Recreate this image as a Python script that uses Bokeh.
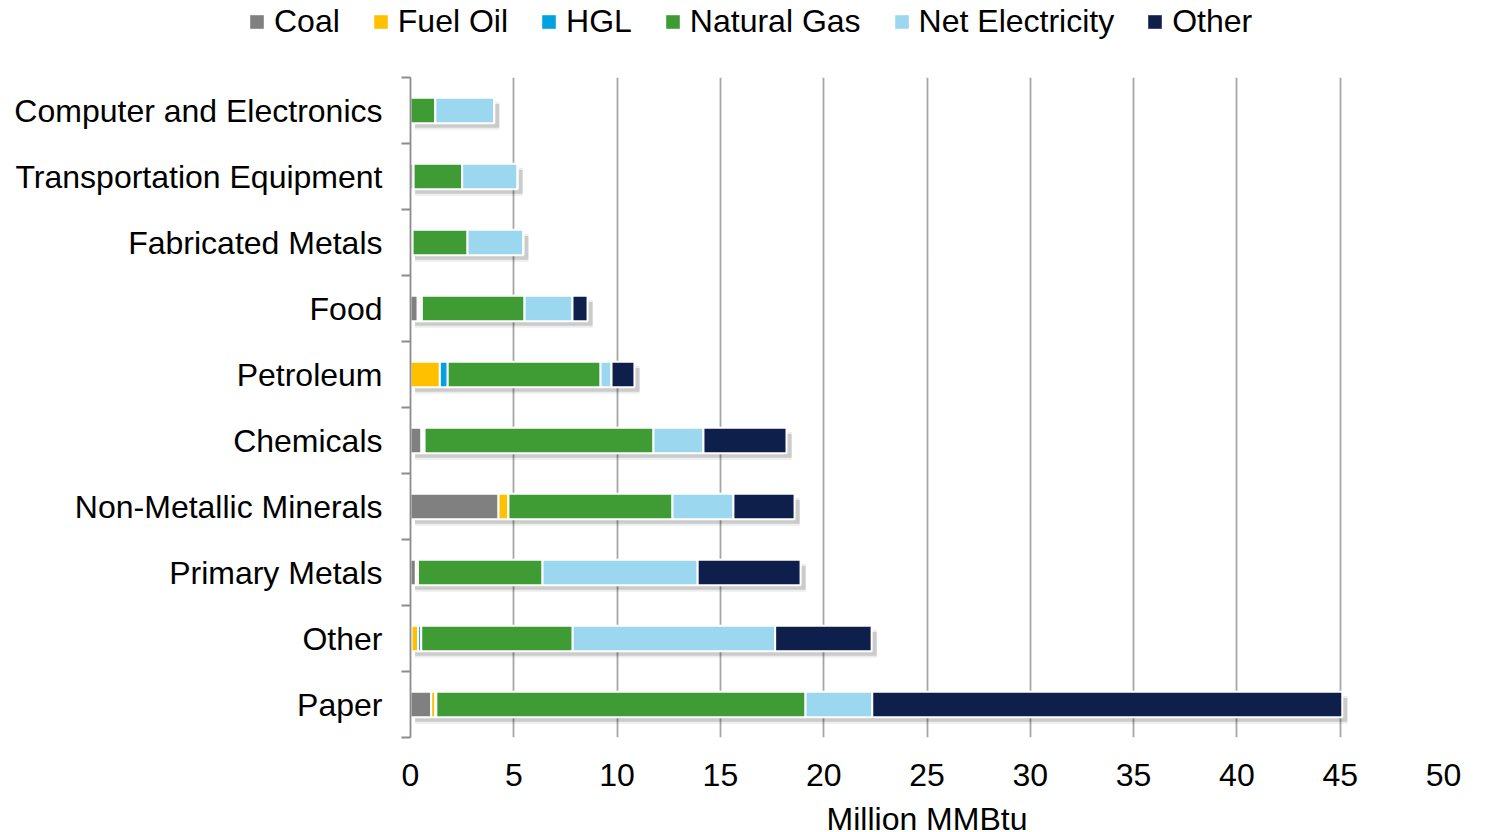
from bokeh.plotting import figure
from bokeh.models import ColumnDataSource, Range1d, FixedTicker, Legend, LegendItem
from bokeh.embed import file_html
from bokeh.resources import INLINE

industries = ["Computer and Electronics", "Transportation Equipment", "Fabricated Metals",
              "Food", "Petroleum", "Chemicals", "Non-Metallic Minerals", "Primary Metals",
              "Other", "Paper"]
coal = [0.0, 0.15, 0.1, 0.35, 0.0, 0.53, 4.26, 0.26, 0.05, 1.0]
fuel_oil = [0.0, 0.0, 0.0, 0.1, 1.42, 0.07, 0.48, 0.1, 0.32, 0.2]
hgl = [0.0, 0.0, 0.0, 0.1, 0.38, 0.08, 0.0, 0.0, 0.15, 0.05]
natural_gas = [1.2, 2.35, 2.66, 4.97, 7.4, 11.08, 7.94, 6.03, 7.33, 17.87]
net_electricity = [2.85, 2.68, 2.7, 2.32, 0.53, 2.42, 2.95, 7.51, 9.8, 3.23]
other = [0.0, 0.0, 0.0, 0.73, 1.11, 4.02, 2.96, 4.98, 4.67, 22.75]

series = ["Coal", "Fuel Oil", "HGL", "Natural Gas", "Net Electricity", "Other"]
colors = ["#808080", "#FFC000", "#00A2E0", "#3F9C35", "#9BD8F0", "#0F1F4B"]
x_ticks = [0, 5, 10, 15, 20, 25, 30, 35, 40, 45, 50]

n = len(industries)
ypos = [n - i for i in range(n)]
keys = ["s%d" % i for i in range(len(series))]
data = dict(y=ypos, name=industries)
for k, arr in zip(keys, [coal, fuel_oil, hgl, natural_gas, net_electricity, other]):
    data[k] = arr
totals = [sum(v) for v in zip(coal, fuel_oil, hgl, natural_gas, net_electricity, other)]
data["sh_y"] = [y - 0.08 for y in ypos]
data["sh_r"] = [t + 0.25 for t in totals]
data["sh_l"] = [0.22] * n
source = ColumnDataSource(data)

FONT = "Liberation Sans"
FS = "32px"
W = 1472

# ---------------- legend strip (separate figure, so the legend is not clipped) ----------------
lg = figure(width=W, height=60, x_range=Range1d(0, 50), y_range=Range1d(0.5, n + 0.5),
            min_border=0, x_axis_location=None, y_axis_location=None,
            output_backend="svg", toolbar_location=None)
lg.grid.grid_line_color = None
lg.outline_line_color = None
lg_r = lg.hbar_stack(keys, y="y", height=0.39, color=colors, source=source, line_color=None)
for r in lg_r:
    r.visible = False
legend = Legend(items=[LegendItem(label=s, renderers=[r]) for s, r in zip(series, lg_r)],
                orientation="horizontal", location=(248, 20),
                label_text_font=FONT, label_text_font_size=FS, label_text_color="black",
                glyph_width=17, glyph_height=17, label_standoff=9, spacing=32,
                padding=0, margin=0, border_line_color=None, background_fill_alpha=0,
                click_policy="none")
lg.add_layout(legend, "center")

# ---------------- main chart ----------------
p = figure(frame_width=1033, frame_height=660, min_border_left=410, min_border_right=29,
           min_border_top=17, min_border_bottom=95,
           x_range=Range1d(0, 50), y_range=Range1d(0.5, n + 0.5),
           output_backend="svg", toolbar_location=None)
p.outline_line_color = None
p.background_fill_color = "white"

p.xgrid.ticker = FixedTicker(ticks=x_ticks)
p.xgrid.grid_line_color = "#A6A6A6"
p.xgrid.grid_line_width = 1.8
p.ygrid.grid_line_color = None

# soft drop shadow
p.hbar(y="sh_y", left="sh_l", right="sh_r", height=0.42, source=source,
       fill_color="#000000", fill_alpha=0.07, line_color=None)
p.hbar(y="sh_y", left="sh_l", right="sh_r", height=0.36, source=source,
       fill_color="#000000", fill_alpha=0.14, line_color=None)

p.hbar_stack(keys, y="y", height=0.39, color=colors, source=source,
             line_color="white", line_width=2)

xa = p.xaxis[0]
xa.ticker = FixedTicker(ticks=x_ticks)
xa.axis_line_color = None
xa.major_tick_line_color = None
xa.minor_tick_line_color = None
xa.major_tick_out = 0
xa.major_tick_in = 0
xa.major_label_standoff = 26
xa.major_label_text_font = FONT
xa.major_label_text_font_size = FS
xa.major_label_text_color = "black"
xa.axis_label = "Million MMBtu"
xa.axis_label_text_font = FONT
xa.axis_label_text_font_size = FS
xa.axis_label_text_font_style = "normal"
xa.axis_label_text_color = "black"
xa.axis_label_standoff = 12

ya = p.yaxis[0]
ya.ticker = FixedTicker(ticks=ypos, minor_ticks=[k + 0.5 for k in range(n + 1)])
ya.major_label_overrides = {y: name for y, name in zip(ypos, industries)}
ya.axis_line_color = "#8C8C8C"
ya.axis_line_width = 1.8
ya.major_tick_line_color = None
ya.major_tick_out = 0
ya.major_tick_in = 0
ya.minor_tick_line_color = "#8C8C8C"
ya.minor_tick_line_width = 1.8
ya.minor_tick_out = 9
ya.minor_tick_in = 0
ya.major_label_standoff = 19
ya.major_label_text_font = FONT
ya.major_label_text_font_size = FS
ya.major_label_text_color = "black"

open("out.html", "w").write(file_html([lg, p], INLINE))
